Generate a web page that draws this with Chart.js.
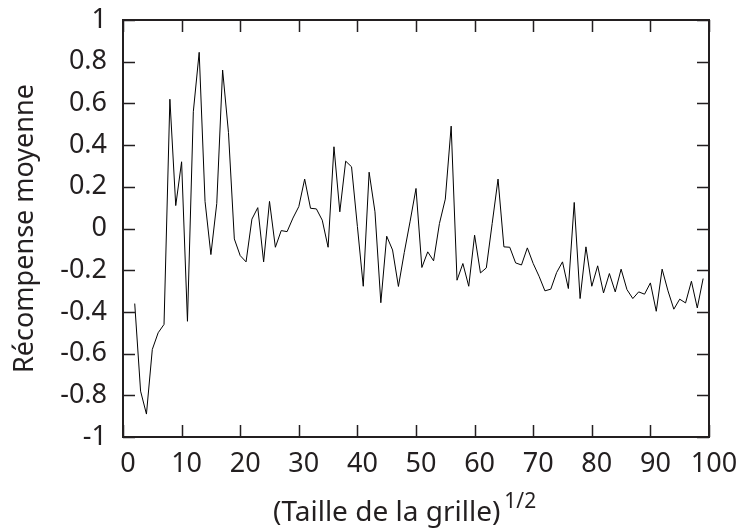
<!DOCTYPE html>
<html>
<head>
<meta charset="utf-8">
<script src="https://cdn.jsdelivr.net/npm/chart.js@4/dist/chart.umd.min.js"></script>
<style>
  html, body { margin: 0; padding: 0; background: #fff; }
  canvas { display: block; }
</style>
</head>
<body>
<canvas id="chart" width="742" height="528"></canvas>
<script>
const gridSize = [
  2, 3, 4, 5, 6, 7, 8, 9, 10, 11, 12, 13, 14, 15, 16, 17, 18, 19, 20, 21,
  22, 23, 24, 25, 26, 27, 28, 29, 30, 31, 32, 33, 34, 35, 36, 37, 38, 39, 40, 41,
  42, 43, 44, 45, 46, 47, 48, 49, 50, 51, 52, 53, 54, 55, 56, 57, 58, 59, 60, 61,
  62, 63, 64, 65, 66, 67, 68, 69, 70, 71, 72, 73, 74, 75, 76, 77, 78, 79, 80, 81,
  82, 83, 84, 85, 86, 87, 88, 89, 90, 91, 92, 93, 94, 95, 96, 97, 98, 99
];

const meanReward = [
  -0.36, -0.78, -0.89, -0.58, -0.50, -0.46, 0.62, 0.11, 0.32, -0.445,
  0.56, 0.845, 0.13, -0.125, 0.12, 0.76, 0.46, -0.05, -0.13, -0.16,
  0.045, 0.10, -0.16, 0.13, -0.09, -0.01, -0.015, 0.05, 0.105, 0.237,
  0.097, 0.094, 0.04, -0.09, 0.392, 0.08, 0.323, 0.296, 0.01, -0.277,
  0.27, 0.08, -0.356, -0.037, -0.103, -0.278, -0.115, 0.035, 0.192, -0.187,
  -0.112, -0.155, 0.024, 0.141, 0.491, -0.248, -0.168, -0.277, -0.032, -0.213,
  -0.189, 0.024, 0.237, -0.088, -0.09, -0.165, -0.175, -0.093, -0.168, -0.229,
  -0.299, -0.291, -0.211, -0.16, -0.288, 0.125, -0.336, -0.088, -0.277, -0.179,
  -0.309, -0.216, -0.304, -0.195, -0.293, -0.336, -0.304, -0.315, -0.261, -0.397,
  -0.195, -0.299, -0.387, -0.339, -0.357, -0.253, -0.381, -0.24
];

const xTicks = [0, 10, 20, 30, 40, 50, 60, 70, 80, 90, 100];
const yTicks = [-1, -0.8, -0.6, -0.4, -0.2, 0, 0.2, 0.4, 0.6, 0.8, 1];

const xTitle = "(Taille de la grille)";
const xTitleSup = "1/2";
const yTitle = "Récompense moyenne";

const textColor = "#231f20";
const fontFamily = "'Noto Sans', 'Open Sans', sans-serif";

// gnuplot-like frame: border on all four sides, ticks pointing inwards
const framePlugin = {
  id: "frame",
  afterDraw(chart) {
    const { ctx, chartArea: area, scales } = chart;
    const tickLen = 12;
    ctx.save();
    ctx.strokeStyle = textColor;
    ctx.lineWidth = 1.5;
    ctx.beginPath();
    xTicks.forEach((v) => {
      const px = Math.round(scales.x.getPixelForValue(v)) + 0.5;
      ctx.moveTo(px, area.bottom);
      ctx.lineTo(px, area.bottom - tickLen);
      ctx.moveTo(px, area.top);
      ctx.lineTo(px, area.top + tickLen);
    });
    yTicks.forEach((v) => {
      const py = Math.round(scales.y.getPixelForValue(v)) + 0.5;
      ctx.moveTo(area.left, py);
      ctx.lineTo(area.left + tickLen, py);
      ctx.moveTo(area.right, py);
      ctx.lineTo(area.right - tickLen, py);
    });
    ctx.stroke();

    ctx.lineWidth = 2;
    ctx.strokeRect(area.left, area.top, area.right - area.left, area.bottom - area.top);

    // axis titles
    ctx.fillStyle = textColor;
    ctx.font = "28px " + fontFamily;
    ctx.textAlign = "left";
    ctx.textBaseline = "alphabetic";
    ctx.fillText(xTitle, 273, 521);
    const w = ctx.measureText(xTitle).width;
    ctx.font = "21px " + fontFamily;
    ctx.fillText(xTitleSup, 273 + w + 4, 508);

    ctx.font = "27px " + fontFamily;
    ctx.translate(33, (area.top + area.bottom) / 2);
    ctx.rotate(-Math.PI / 2);
    ctx.textAlign = "center";
    ctx.fillText(yTitle, 0, 0);
    ctx.restore();
  },
};

new Chart(document.getElementById("chart"), {
  type: "line",
  data: {
    datasets: [
      {
        data: gridSize.map((x, i) => ({ x, y: meanReward[i] })),
        borderColor: "#000",
        borderWidth: 1,
        pointRadius: 0,
        tension: 0,
        fill: false,
      },
    ],
  },
  options: {
    responsive: false,
    animation: false,
    devicePixelRatio: 1,
    layout: { padding: { top: 20, right: 33, left: 0, bottom: 0 } },
    plugins: { legend: { display: false }, tooltip: { enabled: false } },
    scales: {
      x: {
        type: "linear",
        min: 0,
        max: 100,
        afterBuildTicks: (scale) => {
          scale.ticks = xTicks.map((value) => ({ value }));
        },
        afterFit: (scale) => {
          scale.height = 91;
          scale.paddingLeft = 0;
          scale.paddingRight = 0;
        },
        grid: { display: false, drawTicks: false },
        border: { display: false },
        ticks: {
          color: textColor,
          font: { family: fontFamily, size: 27 },
          padding: 11,
          labelOffset: 5,
          maxRotation: 0,
          autoSkip: false,
        },
      },
      y: {
        type: "linear",
        min: -1,
        max: 1,
        afterBuildTicks: (scale) => {
          scale.ticks = yTicks.map((value) => ({ value }));
        },
        afterFit: (scale) => {
          scale.width = 123;
          scale.paddingTop = 0;
          scale.paddingBottom = 0;
        },
        grid: { display: false, drawTicks: false },
        border: { display: false },
        ticks: {
          color: textColor,
          font: { family: fontFamily, size: 27 },
          padding: 16,
          autoSkip: false,
          callback: (v) => String(Math.round(v * 10) / 10),
        },
      },
    },
  },
  plugins: [framePlugin],
});
</script>
</body>
</html>
